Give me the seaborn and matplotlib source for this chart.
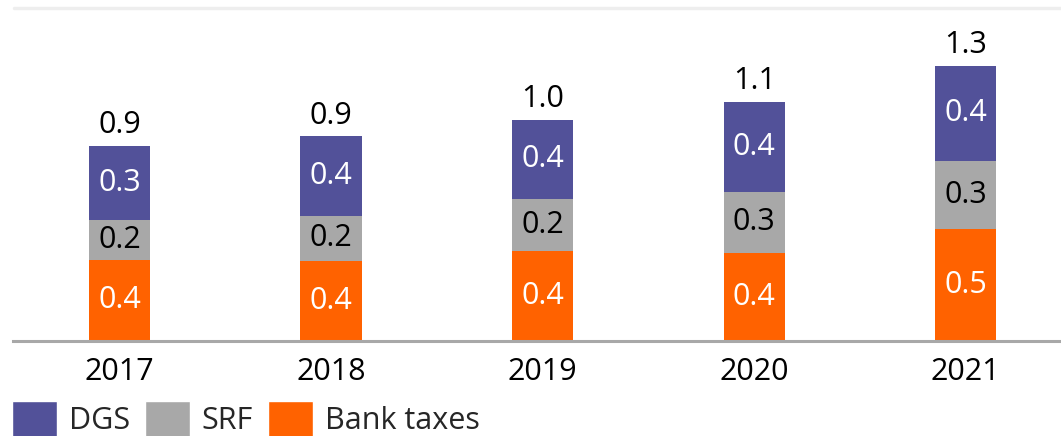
import matplotlib
matplotlib.use("Agg")
import matplotlib.pyplot as plt
from matplotlib.lines import Line2D
from matplotlib.patches import Patch
import seaborn as sns
import pandas as pd
import numpy as np

years = ["2017", "2018", "2019", "2020", "2021"]
bank_taxes = [0.371, 0.366, 0.411, 0.403, 0.513]
srf = [0.182, 0.205, 0.240, 0.278, 0.311]
dgs = [0.339, 0.366, 0.361, 0.413, 0.436]
series_names = ["DGS", "SRF", "Bank taxes"]

c_dgs = "#525199"
c_srf = "#A8A8A8"
c_bank = "#FF6200"

sns.set_theme(style="white")
plt.rcParams["font.family"] = ["Open Sans", "DejaVu Sans"]

df = pd.DataFrame({"year": years, "bank": bank_taxes, "srf": srf, "dgs": dgs})
df["lvl1"] = df["bank"]
df["lvl2"] = df["bank"] + df["srf"]
df["lvl3"] = df["bank"] + df["srf"] + df["dgs"]

fig = plt.figure(figsize=(10.61, 4.36), dpi=100)
W, H = 1061, 436
ax = fig.add_axes([13 / W, (H - 340.5) / H, 1 - 13 / W, 340.5 / H])

bw = 0.29
sns.barplot(data=df, x="year", y="lvl3", color=c_dgs, width=bw, saturation=1, ax=ax, linewidth=0)
sns.barplot(data=df, x="year", y="lvl2", color=c_srf, width=bw, saturation=1, ax=ax, linewidth=0)
sns.barplot(data=df, x="year", y="lvl1", color=c_bank, width=bw, saturation=1, ax=ax, linewidth=0)

fs = 22
for i in range(len(years)):
    b, s, d = df.loc[i, "bank"], df.loc[i, "srf"], df.loc[i, "dgs"]
    ax.text(i, b / 2, f"{b:.1f}", ha="center", va="center", color="white", fontsize=fs)
    ax.text(i, b + s / 2, f"{s:.1f}", ha="center", va="center", color="black", fontsize=fs)
    ax.text(i, b + s + d / 2, f"{d:.1f}", ha="center", va="center", color="white", fontsize=fs)
    tot = b + s + d
    ax.annotate(f"{tot:.1f}", (i, tot), xytext=(0, 4), textcoords="offset points",
                ha="center", va="bottom", color="black", fontsize=fs)

ax.set_xlim(-0.504, 4.45)
ax.set_ylim(0, 340.5 / 218)
ax.set_xlabel("")
ax.set_ylabel("")
ax.set_yticks([])
for sp in ["left", "top", "right"]:
    ax.spines[sp].set_visible(False)
ax.spines["bottom"].set_color("#A8A8A8")
ax.spines["bottom"].set_linewidth(2.2)
ax.tick_params(axis="x", length=0, pad=12, labelsize=fs, colors="black")
ax.grid(False)

fig.add_artist(Line2D([14 / W, 1.0], [1 - 8 / H, 1 - 8 / H], color="#EEEEEE", linewidth=2.5))

handles = [Patch(facecolor=c_dgs), Patch(facecolor=c_srf), Patch(facecolor=c_bank)]
fig.legend(handles, series_names, loc="upper left", bbox_to_anchor=(12 / W, 1 - 401 / H),
           ncol=3, frameon=False, fontsize=22, handlelength=1.47, handleheight=1.47,
           handletextpad=0.38, columnspacing=0.5, borderpad=0, borderaxespad=0)

fig.savefig("out.png", dpi=100)
